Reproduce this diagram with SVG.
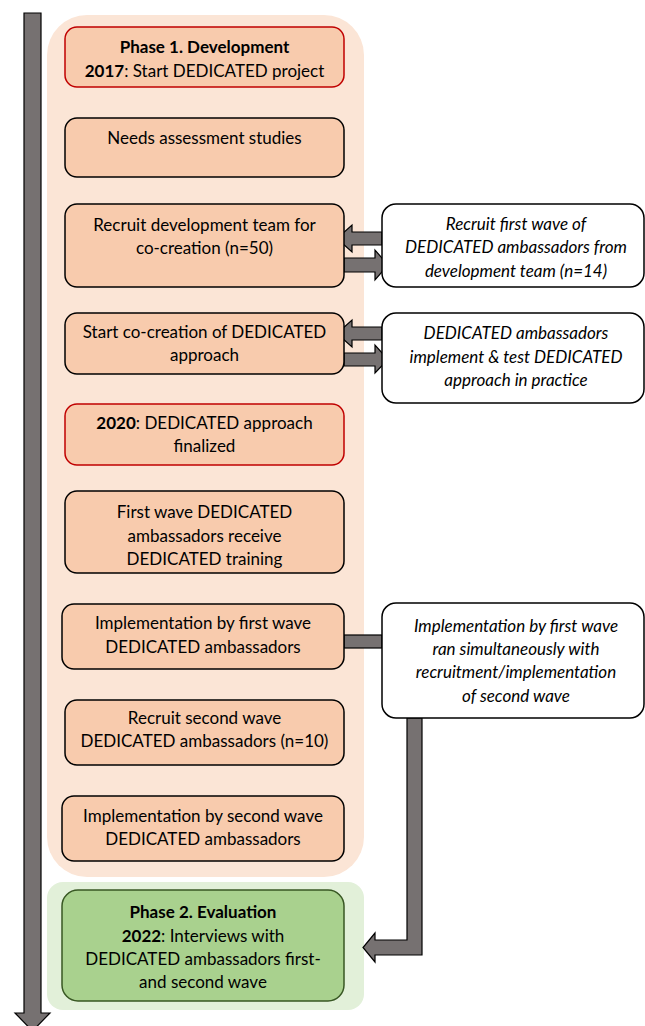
<svg xmlns="http://www.w3.org/2000/svg" width="645" height="1026" viewBox="0 0 645 1026">
<style>
text{font-family:Lato,"Liberation Sans",sans-serif;font-size:17px;fill:#000;text-anchor:middle}
.it{font-style:italic}
.b{font-weight:bold}
.node{fill:#f8cbad;stroke:#000;stroke-width:1.5}
.red{stroke:#c00000}
.green{fill:#a9d18e;stroke:#385723;stroke-width:1.5}
.note{fill:#fff;stroke:#000;stroke-width:1.5}
.conn{fill:#767171;stroke:#000;stroke-width:1.2;stroke-linejoin:miter}
</style>
<rect x="47" y="15" width="317" height="862" rx="40" fill="#fbe5d6"/>
<rect x="47" y="882" width="317" height="128" rx="16" fill="#e2f0d9"/>
<g id="timeline">
<polygon class="conn" points="24,13 41,13 41,1013 50,1013 32.5,1031 15,1013 24,1013"/>
</g>
<g id="connectors">
<polygon class="conn" points="382,232 352,232 352,225 337,238.5 352,252 352,245 382,245"/>
<polygon class="conn" points="344,258 375,258 375,250 388,265 375,280 375,272 344,272"/>
<polygon class="conn" points="382,327 352,327 352,320 337,333.5 352,347 352,340 382,340"/>
<polygon class="conn" points="344,353 375,353 375,345 388,359.5 375,373 375,366 344,366"/>
<rect class="conn" x="344" y="635" width="38" height="13"/>
<polygon class="conn" points="407,718 422,718 422,955 375,955 375,962 363,947.5 375,933 375,940 407,940"/>
</g>
<g id="n1"><rect class="node red" x="65" y="27" width="279" height="60" rx="12"/>
<text x="204.5" y="53" class="b">Phase 1. Development</text>
<text x="204.5" y="77"><tspan class="b">2017</tspan>: Start DEDICATED project</text></g>
<g id="n2"><rect class="node" x="65" y="118" width="279" height="59" rx="12"/>
<text x="204.5" y="144">Needs assessment studies</text></g>
<g id="n3"><rect class="node" x="65" y="204" width="279" height="83" rx="12"/>
<text x="204.5" y="231">Recruit development team for</text>
<text x="204.5" y="254">co-creation (n=50)</text></g>
<g id="n4"><rect class="node" x="65" y="313" width="279" height="61" rx="12"/>
<text x="204.5" y="338">Start co-creation of DEDICATED</text>
<text x="204.5" y="361">approach</text></g>
<g id="n5"><rect class="node red" x="65" y="404" width="279" height="61" rx="12"/>
<text x="204.5" y="429"><tspan class="b">2020</tspan>: DEDICATED approach</text>
<text x="204.5" y="452">finalized</text></g>
<g id="n6"><rect class="node" x="65" y="491" width="279" height="82" rx="12"/>
<text x="204.5" y="518">First wave DEDICATED</text>
<text x="204.5" y="542">ambassadors receive</text>
<text x="204.5" y="565">DEDICATED training</text></g>
<g id="n7"><rect class="node" x="62" y="604" width="282" height="65" rx="12"/>
<text x="203" y="629">Implementation by first wave</text>
<text x="203" y="653">DEDICATED ambassadors</text></g>
<g id="n8"><rect class="node" x="65" y="700" width="279" height="65" rx="12"/>
<text x="204.5" y="724">Recruit second wave</text>
<text x="204.5" y="747">DEDICATED ambassadors (n=10)</text></g>
<g id="n9"><rect class="node" x="62" y="796" width="282" height="65" rx="12"/>
<text x="203" y="822">Implementation by second wave</text>
<text x="203" y="845">DEDICATED ambassadors</text></g>
<g id="n10"><rect class="green" x="62" y="890" width="282" height="111" rx="16"/>
<text x="203" y="918" class="b">Phase 2. Evaluation</text>
<text x="203" y="942"><tspan class="b">2022</tspan>: Interviews with</text>
<text x="203" y="965">DEDICATED ambassadors first-</text>
<text x="203" y="988">and second wave</text></g>
<g id="r1"><rect class="note" x="382" y="204" width="262" height="83" rx="14"/>
<text x="516" y="230" class="it">Recruit first wave of</text>
<text x="516" y="253" class="it">DEDICATED ambassadors from</text>
<text x="516" y="277" class="it">development team (n=14)</text></g>
<g id="r2"><rect class="note" x="382" y="313" width="262" height="90" rx="14"/>
<text x="516" y="339" class="it">DEDICATED ambassadors</text>
<text x="516" y="363" class="it">implement &amp; test DEDICATED</text>
<text x="516" y="386" class="it">approach in practice</text></g>
<g id="r3"><rect class="note" x="382" y="603" width="262" height="115" rx="14"/>
<text x="516" y="632" class="it">Implementation by first wave</text>
<text x="516" y="655" class="it">ran simultaneously with</text>
<text x="516" y="678" class="it">recruitment/implementation</text>
<text x="516" y="702" class="it">of second wave</text></g>
</svg>
